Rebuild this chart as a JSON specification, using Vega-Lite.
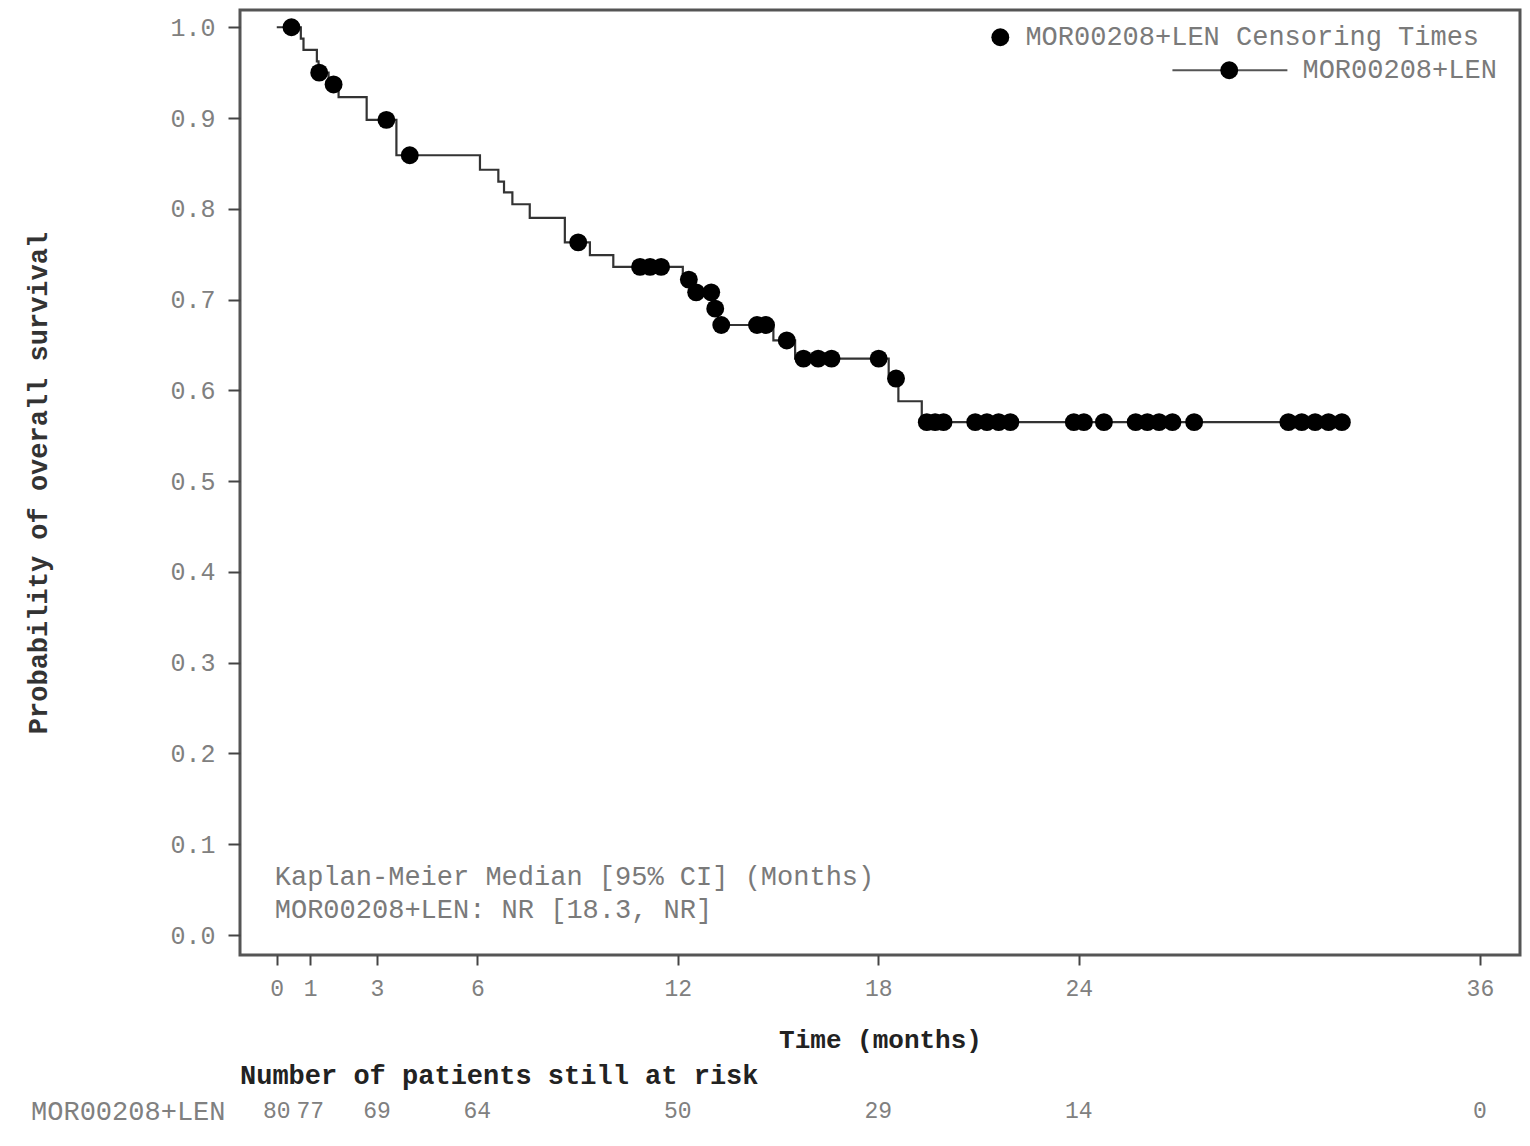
{
  "$schema": "https://vega.github.io/schema/vega-lite/v6.json",
  "padding": {"left": 23, "top": 8, "right": 5, "bottom": 5},
  "background": "white",
  "config": {
    "font": "Liberation Mono",
    "view": {"stroke": "#555555", "strokeWidth": 3},
    "concat": {"spacing": 8}
  },
  "datasets": {
    "km": [
      {"t": 0, "s": 1.0},
      {"t": 0.72, "s": 0.9875},
      {"t": 0.8, "s": 0.975},
      {"t": 1.2, "s": 0.9625},
      {"t": 1.25, "s": 0.95},
      {"t": 1.55, "s": 0.937},
      {"t": 1.85, "s": 0.923},
      {"t": 2.69, "s": 0.898},
      {"t": 3.58, "s": 0.859},
      {"t": 6.08, "s": 0.843},
      {"t": 6.63, "s": 0.83},
      {"t": 6.8, "s": 0.818},
      {"t": 7.05, "s": 0.805},
      {"t": 7.57, "s": 0.79},
      {"t": 8.62, "s": 0.763},
      {"t": 9.37, "s": 0.749},
      {"t": 10.07, "s": 0.736},
      {"t": 12.15, "s": 0.722},
      {"t": 12.45, "s": 0.708},
      {"t": 13.05, "s": 0.69},
      {"t": 13.2, "s": 0.672},
      {"t": 14.86, "s": 0.655},
      {"t": 15.51, "s": 0.635},
      {"t": 18.31, "s": 0.613},
      {"t": 18.6, "s": 0.588},
      {"t": 19.3, "s": 0.565},
      {"t": 31.95, "s": 0.565}
    ],
    "censor": [
      {"t": 0.44, "s": 1.0},
      {"t": 1.27, "s": 0.95},
      {"t": 1.7, "s": 0.937},
      {"t": 3.28, "s": 0.898},
      {"t": 3.98, "s": 0.859},
      {"t": 9.02, "s": 0.763},
      {"t": 10.87, "s": 0.736},
      {"t": 11.17, "s": 0.736},
      {"t": 11.5, "s": 0.736},
      {"t": 12.33, "s": 0.722},
      {"t": 12.55, "s": 0.708},
      {"t": 13.0, "s": 0.708},
      {"t": 13.12, "s": 0.69},
      {"t": 13.3, "s": 0.672},
      {"t": 14.37, "s": 0.672},
      {"t": 14.64, "s": 0.672},
      {"t": 15.26, "s": 0.655},
      {"t": 15.76, "s": 0.635},
      {"t": 16.2, "s": 0.635},
      {"t": 16.6, "s": 0.635},
      {"t": 18.01, "s": 0.635},
      {"t": 18.53, "s": 0.613},
      {"t": 19.45, "s": 0.565},
      {"t": 19.7, "s": 0.565},
      {"t": 19.95, "s": 0.565},
      {"t": 20.9, "s": 0.565},
      {"t": 21.25, "s": 0.565},
      {"t": 21.6, "s": 0.565},
      {"t": 21.95, "s": 0.565},
      {"t": 23.85, "s": 0.565},
      {"t": 24.15, "s": 0.565},
      {"t": 24.75, "s": 0.565},
      {"t": 25.7, "s": 0.565},
      {"t": 26.05, "s": 0.565},
      {"t": 26.4, "s": 0.565},
      {"t": 26.8, "s": 0.565},
      {"t": 27.45, "s": 0.565},
      {"t": 30.27, "s": 0.565},
      {"t": 30.67, "s": 0.565},
      {"t": 31.07, "s": 0.565},
      {"t": 31.47, "s": 0.565},
      {"t": 31.87, "s": 0.565}
    ],
    "legline": [
      {"t": 26.8, "s": 0.9526},
      {"t": 30.24, "s": 0.9526}
    ],
    "legdots": [
      {"t": 21.65, "s": 0.989},
      {"t": 28.5, "s": 0.9526}
    ],
    "texts": [
      {"t": 22.4, "s": 0.989, "label": "MOR00208+LEN Censoring Times"},
      {"t": 30.69, "s": 0.9526, "label": "MOR00208+LEN"},
      {"t": -0.06, "s": 0.0639, "label": "Kaplan-Meier Median [95% CI] (Months)"},
      {"t": -0.06, "s": 0.0275, "label": "MOR00208+LEN: NR [18.3, NR]"}
    ],
    "risk": [
      {"t": 0, "n": "80", "g": "MOR00208+LEN"},
      {"t": 1, "n": "77", "g": "MOR00208+LEN"},
      {"t": 3, "n": "69", "g": "MOR00208+LEN"},
      {"t": 6, "n": "64", "g": "MOR00208+LEN"},
      {"t": 12, "n": "50", "g": "MOR00208+LEN"},
      {"t": 18, "n": "29", "g": "MOR00208+LEN"},
      {"t": 24, "n": "14", "g": "MOR00208+LEN"},
      {"t": 36, "n": "0", "g": "MOR00208+LEN"}
    ]
  },
  "vconcat": [
    {
      "width": 1280,
      "height": 945,
      "encoding": {
        "x": {
          "field": "t",
          "type": "quantitative",
          "scale": {"domain": [-1.1, 37.2], "nice": false, "zero": false},
          "axis": {
            "values": [0, 1, 3, 6, 12, 18, 24, 36],
            "domain": false,
            "grid": false,
            "tickSize": 10,
            "tickColor": "#444444",
            "tickWidth": 2,
            "labelPadding": 12,
            "labelFontSize": 23,
            "labelColor": "#808080",
            "labelFlush": false,
            "title": "Time (months)",
            "titleFontSize": 26,
            "titleFontWeight": "bold",
            "titleColor": "#222222",
            "titlePadding": 26
          }
        },
        "y": {
          "field": "s",
          "type": "quantitative",
          "scale": {"domain": [-0.022, 1.019], "nice": false, "zero": false},
          "axis": {
            "values": [0, 0.1, 0.2, 0.3, 0.4, 0.5, 0.6, 0.7, 0.8, 0.9, 1.0],
            "format": ".1f",
            "domain": false,
            "grid": false,
            "tickSize": 12,
            "tickColor": "#444444",
            "tickWidth": 2,
            "labelPadding": 13,
            "labelFontSize": 25,
            "labelColor": "#808080",
            "labelFlush": false,
            "title": "Probability of overall survival",
            "titleFontSize": 27,
            "titleFontWeight": "bold",
            "titleColor": "#333333",
            "titlePadding": 117
          }
        }
      },
      "layer": [
        {
          "data": {"name": "km"},
          "mark": {"type": "line", "interpolate": "step-after", "color": "#333333", "strokeWidth": 2.2}
        },
        {
          "data": {"name": "legline"},
          "mark": {"type": "line", "color": "#555555", "strokeWidth": 2}
        },
        {
          "data": {"name": "censor"},
          "mark": {"type": "point", "shape": "circle", "filled": true, "color": "#000000", "opacity": 1, "size": 320}
        },
        {
          "data": {"name": "legdots"},
          "mark": {"type": "point", "shape": "circle", "filled": true, "color": "#000000", "opacity": 1, "size": 320}
        },
        {
          "data": {"name": "texts"},
          "mark": {"type": "text", "align": "left", "baseline": "middle", "fontSize": 27, "color": "#7a7a7a"},
          "encoding": {"text": {"field": "label", "type": "nominal"}}
        }
      ]
    },
    {
      "width": 1280,
      "height": 30,
      "view": {"stroke": null},
      "title": {
        "text": "Number of patients still at risk",
        "anchor": "start",
        "frame": "group",
        "fontSize": 27,
        "fontWeight": "bold",
        "color": "#222222",
        "offset": 6
      },
      "data": {"name": "risk"},
      "mark": {"type": "text", "fontSize": 23, "color": "#808080", "baseline": "middle"},
      "encoding": {
        "x": {
          "field": "t",
          "type": "quantitative",
          "scale": {"domain": [-1.1, 37.2], "nice": false, "zero": false},
          "axis": null
        },
        "y": {
          "field": "g",
          "type": "nominal",
          "axis": {
            "title": null,
            "domain": false,
            "ticks": false,
            "labelPadding": 15,
            "labelFontSize": 27,
            "labelColor": "#808080",
            "labelLimit": 400
          }
        },
        "text": {"field": "n", "type": "nominal"}
      }
    }
  ]
}
